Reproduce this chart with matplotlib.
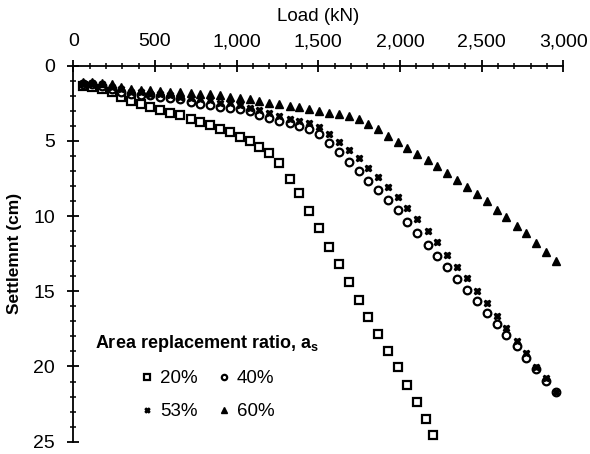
import matplotlib
matplotlib.use("Agg")
import matplotlib.pyplot as plt
from matplotlib.ticker import MultipleLocator, FuncFormatter

plt.rcParams['font.family'] = ['Liberation Sans', 'DejaVu Sans']

# load steps (kN) for the 40 %, 53 % and 60 % tests
load_kn = [58, 116, 174, 235, 292, 353, 413, 471, 531, 592, 651, 719, 778, 839,
           900, 959, 1021, 1082, 1139, 1199, 1261, 1324, 1384, 1446, 1507, 1567,
           1628, 1688, 1747, 1807, 1867, 1925, 1986, 2046, 2106, 2170, 2229, 2288,
           2351, 2412, 2474, 2533, 2592, 2652, 2714, 2774, 2833, 2892, 2954]
# load steps (kN) for the 20 % test
load_20 = [58, 116, 174, 235, 292, 353, 413, 471, 531, 592, 651, 719, 778, 839,
           900, 959, 1021, 1082, 1139, 1199, 1261, 1324, 1384, 1446, 1507, 1567,
           1628, 1688, 1747, 1807, 1867, 1925, 1986, 2046, 2106, 2158, 2205]

# settlement (cm)
s_20 = [1.36, 1.45, 1.56, 1.78, 2.11, 2.38, 2.58, 2.76, 2.96, 3.14, 3.31, 3.57,
        3.76, 3.97, 4.22, 4.44, 4.73, 5.04, 5.40, 5.79, 6.46, 7.52, 8.50, 9.69,
        10.82, 12.08, 13.19, 14.39, 15.55, 16.69, 17.82, 18.95, 20.05, 21.25,
        22.38, 23.46, 24.52]
s_40 = [1.20, 1.26, 1.36, 1.53, 1.73, 1.86, 1.93, 1.99, 2.06, 2.14, 2.25, 2.41,
        2.56, 2.62, 2.74, 2.84, 2.91, 3.02, 3.29, 3.51, 3.67, 3.82, 3.99, 4.24,
        4.57, 5.17, 5.77, 6.38, 7.01, 7.65, 8.27, 8.96, 9.62, 10.38, 11.15, 11.93,
        12.64, 13.41, 14.19, 14.94, 15.65, 16.43, 17.19, 17.91, 18.64, 19.42,
        20.19, 20.96, 21.71]
s_53 = [1.13, 1.18, 1.26, 1.40, 1.59, 1.73, 1.79, 1.86, 1.91, 1.98, 2.06, 2.18,
        2.25, 2.29, 2.47, 2.51, 2.62, 2.84, 2.96, 3.18, 3.36, 3.54, 3.67, 3.80,
        4.09, 4.57, 5.10, 5.59, 6.16, 6.78, 7.43, 8.04, 8.74, 9.50, 10.21, 10.98,
        11.74, 12.57, 13.36, 14.14, 14.96, 15.80, 16.63, 17.46, 18.29, 19.12,
        20.01, 20.78, 21.71]
s_60 = [1.08, 1.11, 1.16, 1.24, 1.41, 1.57, 1.61, 1.66, 1.71, 1.75, 1.79, 1.85,
        1.91, 1.91, 1.99, 2.07, 2.13, 2.24, 2.34, 2.47, 2.57, 2.67, 2.77, 2.89,
        3.02, 3.14, 3.22, 3.36, 3.57, 3.91, 4.24, 4.68, 5.06, 5.46, 5.88, 6.30,
        6.70, 7.14, 7.59, 8.05, 8.54, 9.02, 9.59, 10.09, 10.66, 11.15, 11.77,
        12.41, 12.97]

fig = plt.figure(figsize=(5.9, 4.54), dpi=100)
ax = fig.add_axes([0.1242, 0.027, 0.8306, 0.8287])

h20, = ax.plot(load_20, s_20, 's', ms=5.5, mfc='white', mec='black', mew=1.6, ls='none', label='20%')
h40, = ax.plot(load_kn, s_40, 'o', ms=5.5, mfc='white', mec='black', mew=1.6, ls='none', label='40%')
h53, = ax.plot(load_kn, s_53, 'X', ms=5, color='black', ls='none', label='53%')
h60, = ax.plot(load_kn, s_60, '^', ms=5.5, color='black', ls='none', label='60%')

ax.set_xlim(0, 3000)
ax.set_ylim(25, 0)
ax.xaxis.set_major_locator(MultipleLocator(500))
ax.xaxis.set_minor_locator(MultipleLocator(100))
ax.yaxis.set_major_locator(MultipleLocator(5))
ax.yaxis.set_minor_locator(MultipleLocator(1))
ax.xaxis.set_major_formatter(FuncFormatter(lambda v, p: f'{int(v):,}'))
ax.xaxis.tick_top()
ax.xaxis.set_label_position('top')

for side in ['right', 'bottom']:
    ax.spines[side].set_visible(False)
for side in ['top', 'left']:
    ax.spines[side].set_linewidth(1.3)

ax.tick_params(which='major', direction='inout', length=8, width=1.3, labelsize=14)
ax.tick_params(which='minor', direction='inout', length=5, width=1.1)
ax.tick_params(axis='x', which='both', top=True, bottom=False, labeltop=True, labelbottom=False, pad=7)
ax.tick_params(axis='y', pad=9)

ax.set_xlabel('Load (kN)', fontsize=13.5, labelpad=9)
ax.set_ylabel('Settlemnt (cm)', fontsize=12.5, fontweight='bold', labelpad=8)

leg = ax.legend(handles=[h20, h53, h40, h60], ncol=2, frameon=False,
                title=r'Area replacement ratio, a$_\mathregular{s}$',
                title_fontproperties={'weight': 'bold', 'size': 13},
                fontsize=13.5, loc='upper left', bbox_to_anchor=(0.01, 0.335),
                handlelength=0.8, handletextpad=0.3, columnspacing=1.0,
                markerscale=0.7, labelspacing=0.85)
leg._legend_box.sep = 12

fig.savefig('out.png', dpi=100)
